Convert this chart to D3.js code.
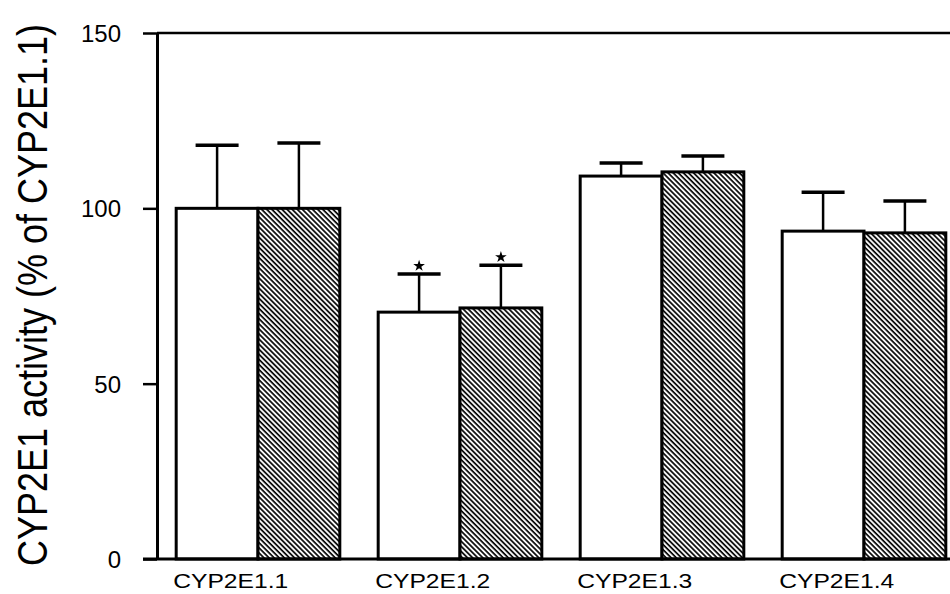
<!DOCTYPE html>
<html>
<head>
<meta charset="utf-8">
<script src="https://cdn.jsdelivr.net/npm/d3@7"></script>
<style>
  body { margin: 0; background: #fff; }
  svg text { font-family: "Liberation Sans", Arial, sans-serif; fill: #000; }
  .y-axis text { font-size: 24px; }
</style>
</head>
<body>
<svg></svg>
<script>
// values (% of CYP2E1.1)
var variants = ['CYP2E1.1', 'CYP2E1.2', 'CYP2E1.3', 'CYP2E1.4'];
var openMeans = [100, 70.4, 109.2, 93.5];
var openErr = [18, 10.9, 3.7, 11.1];
var hatchMeans = [100, 71.6, 110.4, 93.0];
var hatchErr = [18.6, 12.2, 4.5, 9.1];
var significant = [false, true, false, false];
var yTicks = [0, 50, 100, 150];

var width = 950;
var height = 594;

var svg = d3.select('svg')
  .attr('width', width)
  .attr('height', height);

var defs = svg.append('defs');
var pat = defs.append('pattern')
  .attr('id', 'hatch')
  .attr('patternUnits', 'userSpaceOnUse')
  .attr('width', 3.6)
  .attr('height', 3.6)
  .attr('patternTransform', 'rotate(-45)');
pat.append('rect').attr('width', 3.6).attr('height', 3.6).attr('fill', '#fff');
pat.append('line')
  .attr('x1', 1).attr('x2', 1)
  .attr('y1', 0).attr('y2', 3.6)
  .attr('stroke', '#000')
  .attr('stroke-width', 1.7);

var x = d3.scaleBand()
  .domain(variants)
  .range([157, 965])
  .paddingInner(0.19)
  .paddingOuter(0.095);

var sub = d3.scaleBand()
  .domain(['open', 'hatch'])
  .range([0, x.bandwidth()]);

var y = d3.scaleLinear()
  .domain([0, 150])
  .range([559, 33]);

var rows = [];
variants.forEach(function(v, i) {
  rows.push({ variant: v, kind: 'open', mean: openMeans[i], err: openErr[i], sig: significant[i] });
  rows.push({ variant: v, kind: 'hatch', mean: hatchMeans[i], err: hatchErr[i], sig: significant[i] });
});

// error bars (drawn first, the bar outline sits over the stem foot)
var eb = svg.append('g').selectAll('g')
  .data(rows)
  .enter()
  .append('g')
  .attr('transform', d => 'translate(' + (x(d.variant) + sub(d.kind) + sub.bandwidth() / 2) + ',0)');

eb.append('line')
  .attr('y1', d => y(d.mean))
  .attr('y2', d => y(d.mean + d.err))
  .attr('stroke', '#000')
  .attr('stroke-width', 2.5);

eb.append('line')
  .attr('x1', -21.5).attr('x2', 21.5)
  .attr('y1', d => y(d.mean + d.err))
  .attr('y2', d => y(d.mean + d.err))
  .attr('stroke', '#000')
  .attr('stroke-width', 3.5);

eb.filter(d => d.sig)
  .append('path')
  .attr('d', d3.symbol().type(d3.symbolStar).size(42))
  .attr('transform', d => 'translate(0,' + (y(d.mean + d.err) - 8) + ')')
  .attr('fill', '#000');

svg.append('g').selectAll('rect')
  .data(rows)
  .enter()
  .append('rect')
  .attr('x', d => x(d.variant) + sub(d.kind))
  .attr('y', d => y(d.mean))
  .attr('width', sub.bandwidth())
  .attr('height', d => y(0) - y(d.mean))
  .attr('fill', d => d.kind === 'hatch' ? 'url(#hatch)' : '#fff')
  .attr('stroke', '#000')
  .attr('stroke-width', 3);

// top frame line
svg.append('line')
  .attr('x1', 157).attr('x2', width)
  .attr('y1', y(150)).attr('y2', y(150))
  .attr('stroke', '#000')
  .attr('stroke-width', 2.5);

// y axis
var yAxis = svg.append('g')
  .attr('class', 'y-axis')
  .attr('transform', 'translate(157,0)')
  .call(d3.axisLeft(y).tickValues(yTicks).tickSize(14).tickPadding(22).tickSizeOuter(0))
  .attr('font-size', 24)
  .attr('font-family', null);
yAxis.select('.domain').attr('stroke-width', 3);
yAxis.selectAll('.tick line').attr('stroke-width', 2.5);
yAxis.selectAll('.tick text').attr('dy', '0.35em');

// bottom axis line
svg.append('line')
  .attr('x1', 143).attr('x2', width)
  .attr('y1', y(0)).attr('y2', y(0))
  .attr('stroke', '#000')
  .attr('stroke-width', 3);

svg.append('g').selectAll('text')
  .data(variants)
  .enter()
  .append('text')
  .attr('x', d => x(d) - 3)
  .attr('y', 588)
  .style('font-size', '21px')
  .attr('textLength', 115)
  .attr('lengthAdjust', 'spacingAndGlyphs')
  .text(d => d);

svg.append('text')
  .attr('transform', 'translate(47,295) rotate(-90) scale(1,1.2)')
  .attr('text-anchor', 'middle')
  .style('font-size', '36px')
  .text('CYP2E1 activity (% of CYP2E1.1)');
</script>
</body>
</html>
